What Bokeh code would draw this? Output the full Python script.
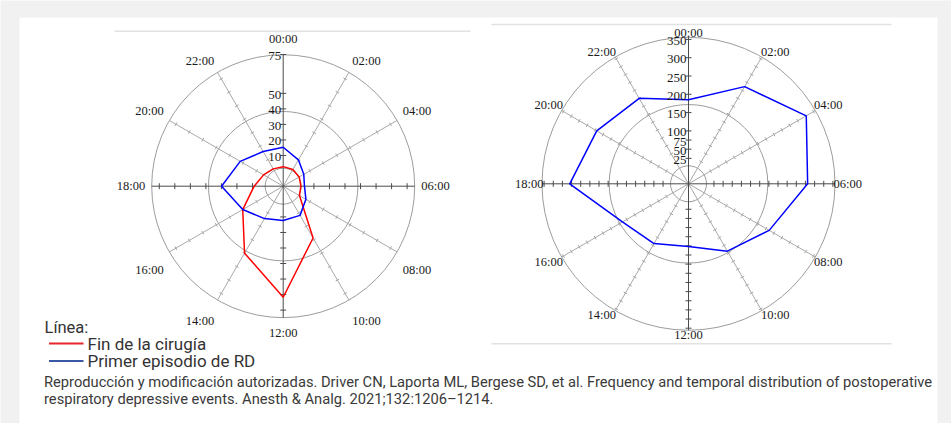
import numpy as np
from bokeh.plotting import figure
from bokeh.models import Range1d
from bokeh.embed import file_html
from bokeh.resources import INLINE
from bokeh.core.properties import value

# ---------------- data ----------------
hour_labels = ["00:00", "02:00", "04:00", "06:00", "08:00", "10:00",
               "12:00", "14:00", "16:00", "18:00", "20:00", "22:00"]
hours = [0, 2, 4, 6, 8, 10, 12, 14, 16, 18, 20, 22]

# left chart
fin_cirugia = [2.8, 2.6, 2.1, 1.6, 2.3, 28.7, 61.7, 40.0, 20.3, 8.9, 4.8, 3.1]
primer_rd_left = [15.3, 9.8, 5.5, 3.9, 7.1, 11.9, 12.3, 14.3, 20.3, 29.9, 22.2, 16.0]
left_axis_ticks = [10, 20, 30, 40, 50, 75]
left_spoke_ticks = [10, 20, 30, 40, 50, 60, 70]

# right chart
primer_rd_right = [185, 262, 327, 281, 210, 168, 127, 144, 164, 280, 245, 225]
right_axis_ticks = [25, 50, 75, 100, 150, 200, 250, 300, 350]
right_spoke_ticks = [25, 50, 75, 100, 125, 150, 175, 200, 225, 250, 275, 300, 325, 350]

legend_title = "Línea:"
series_names = ["Fin de la cirugía", "Primer episodio de RD"]
caption_lines = [
    "Reproducción y modificación autorizadas. Driver CN, Laporta ML, Bergese SD, et al. Frequency and temporal distribution of postoperative",
    "respiratory depressive events. Anesth & Analg. 2021;132:1206\u20131214.",
]

# ---------------- layout / style ----------------
W, H = 951, 423
SERIF = value("Liberation Serif")
SANS = value("Roboto")
PAGE_BG = "#f1f1f1"

p = figure(width=W, height=H, x_range=Range1d(0, W), y_range=Range1d(H, 0),
           output_backend="svg", toolbar_location=None, min_border=0,
           background_fill_color=PAGE_BG, border_fill_color=PAGE_BG)
p.axis.visible = False
p.grid.visible = False
p.outline_line_color = None

# white panel and separator lines
p.quad(left=[19], right=[937], top=[17], bottom=[H + 5], fill_color="white", line_color=None)
p.segment(x0=[114, 491, 491], y0=[30.7, 24, 343.3], x1=[470, 891, 891], y1=[30.7, 24, 343.3],
          line_color="#e2e2e2", line_width=1.5)


def polar_chart(spec, series, colors, axis_ticks, spoke_ticks):
    cx, cy = spec["cx"], spec["cy"]
    r_out = spec["r_out"]
    rad = lambda v: spec["r0"] + spec["k"] * np.asarray(v, dtype=float)

    # grid circles
    p.circle(x=[cx] * 3, y=[cy] * 3, radius=[r_out, spec["r_mid"], spec["r_in"]],
             fill_color=None, line_color="#9c9c9c", line_width=1)

    angles = np.deg2rad(np.array(hours) * 15.0)
    sx, sy = np.sin(angles), -np.cos(angles)
    diag = [i for i, h in enumerate(hours) if h % 6 != 0]
    # diagonal spokes
    p.segment(x0=[cx] * len(diag), y0=[cy] * len(diag),
              x1=[cx + r_out * sx[i] for i in diag], y1=[cy + r_out * sy[i] for i in diag],
              line_color="#a9a9a9", line_width=1)
    # main axes
    p.segment(x0=[cx, cx - r_out], y0=[cy - r_out, cy], x1=[cx, cx + r_out], y1=[cy + r_out, cy],
              line_color="#4a4a4a", line_width=1)

    # ticks
    tx0, ty0, tx1, ty1, tcol = [], [], [], [], []
    for i, h in enumerate(hours):
        vals = axis_ticks if h == 0 else spoke_ticks
        major = (h % 6 == 0)
        L = 3.0 if major else 2.0
        for rv in rad(vals):
            px, py = cx + rv * sx[i], cy + rv * sy[i]
            nx, ny = -sy[i], sx[i]
            tx0.append(px - L * nx); ty0.append(py - L * ny)
            tx1.append(px + L * nx); ty1.append(py + L * ny)
            tcol.append("#4a4a4a" if major else "#a5a5a5")
    p.segment(x0=tx0, y0=ty0, x1=tx1, y1=ty1, line_color=tcol, line_width=1)

    # data polygons
    for vals, col in zip(series, colors):
        rv = rad(vals)
        xs = list(cx + rv * sx) + [cx + rv[0] * sx[0]]
        ys = list(cy + rv * sy) + [cy + rv[0] * sy[0]]
        p.line(xs, ys, line_color=col, line_width=1.5)

    # hour labels
    lx, ly = [], []
    w2, h2 = 14.2, 6.0
    for i, h in enumerate(hours):
        ax = 0 if abs(sx[i]) < 1e-6 else np.sign(sx[i])
        ay = 0 if abs(sy[i]) < 1e-6 else np.sign(sy[i])
        x = cx + spec["lab_r"] * sx[i] + ax * w2
        y = cy + spec["lab_r"] * sy[i] + ay * h2
        if ax != 0 and ay > 0:
            y += spec["lab_drop"]
        if ax == 0:
            y += ay * spec["pole_extra"]
        lx.append(x); ly.append(y)
    p.text(x=lx, y=ly, text=hour_labels, text_align="center", text_baseline="middle",
           text_font=SERIF, text_font_size="12.5px", text_color="#1a1a1a")

    # radial axis labels
    ry = cy - rad(axis_ticks) + 1.5
    p.text(x=[cx - 2] * len(axis_ticks), y=list(ry), text=[str(v) for v in axis_ticks],
           text_align="right", text_baseline="middle",
           text_font=SERIF, text_font_size="13px", text_color="#1a1a1a")


left_spec = dict(cx=282.7, cy=185.7, r_out=131.5, r_mid=74.7, r_in=18.0,
                 r0=15.2, k=1.553, lab_r=138, lab_drop=9, pole_extra=3)
right_spec = dict(cx=688.0, cy=183.3, r_out=146.5, r_mid=79.3, r_in=18.0,
                  r0=16.3, k=0.366, lab_r=145, lab_drop=0, pole_extra=0)

polar_chart(left_spec, [fin_cirugia, primer_rd_left], ["#ff0000", "#0000ff"],
            left_axis_ticks, left_spoke_ticks)
polar_chart(right_spec, [primer_rd_right], ["#0000ff"],
            right_axis_ticks, right_spoke_ticks)

# legend
p.text(x=[44], y=[326.5], text=[legend_title], text_align="left", text_baseline="middle",
       text_font=SANS, text_font_size="16.5px", text_color="#333333")
p.segment(x0=[48.5, 48.5], y0=[343, 360.5], x1=[83, 83], y1=[343, 360.5],
          line_color=["#e8262d", "#3b58a6"], line_width=2.2)
p.text(x=[87, 87], y=[343, 360.5], text=series_names, text_align="left", text_baseline="middle",
       text_font=SANS, text_font_size="17px", text_color="#333333")

# caption
p.text(x=[43.5, 43.5], y=[381.5, 398.5], text=caption_lines, text_align="left", text_baseline="middle",
       text_font=SANS, text_font_size="14.7px", text_color="#3a3a3a")

open("out.html", "w").write(file_html(p, INLINE))
